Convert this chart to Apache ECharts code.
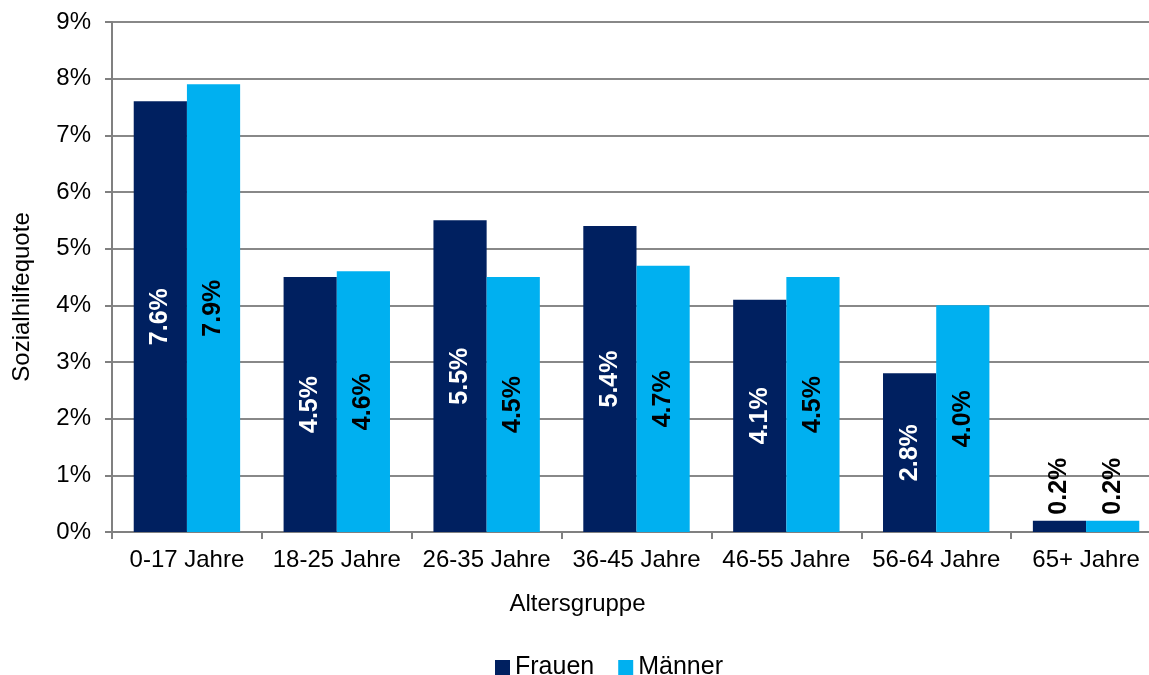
<!DOCTYPE html>
<html>
<head>
<meta charset="utf-8">
<script src="https://cdn.jsdelivr.net/npm/echarts@6/dist/echarts.min.js"></script>
<style>
  html, body { margin: 0; padding: 0; background: #fff; }
  #chart { width: 1149px; height: 675px; }
</style>
</head>
<body>
<div id="chart"></div>
<script>
// Sozialhilfequote nach Altersgruppe und Geschlecht
const categories = ['0-17 Jahre', '18-25 Jahre', '26-35 Jahre', '36-45 Jahre', '46-55 Jahre', '56-64 Jahre', '65+ Jahre'];
const frauen = [7.6, 4.5, 5.5, 5.4, 4.1, 2.8, 0.2];
const maenner = [7.9, 4.6, 4.5, 4.7, 4.5, 4.0, 0.2];
const yTicks = [0, 1, 2, 3, 4, 5, 6, 7, 8, 9];

const FONT = 'Liberation Sans, Arial, sans-serif';

// Short bars get their label above the bar instead of inside it
function withLabels(values) {
  return values.map(v => {
    if (v < 1) {
      return {
        value: v,
        label: { position: 'top', align: 'left', verticalAlign: 'middle', distance: 6, color: '#000' }
      };
    }
    return { value: v };
  });
}

function labelStyle(textColor) {
  return {
    show: true,
    position: 'inside',
    rotate: 90,
    color: textColor,
    fontFamily: FONT,
    fontWeight: 'bold',
    fontSize: 25,
    formatter: p => p.value.toFixed(1) + '%'
  };
}

const chart = echarts.init(document.getElementById('chart'), null, { renderer: 'canvas' });
chart.setOption({
  animation: false,
  backgroundColor: '#fff',
  textStyle: { fontFamily: FONT },
  // the last category runs slightly past the right edge of the canvas
  grid: { left: 112, width: 1049, top: 22, height: 510, outerBoundsMode: 'none', containLabel: false },
  legend: {
    top: 650,
    left: 490,
    itemWidth: 15,
    itemHeight: 15,
    itemGap: 24,
    icon: 'rect',
    textStyle: { fontSize: 25, color: '#000', fontFamily: FONT },
    data: ['Frauen', 'Männer']
  },
  xAxis: {
    type: 'category',
    data: categories,
    name: 'Altersgruppe',
    nameLocation: 'middle',
    nameGap: 60,
    nameTextStyle: { fontSize: 24, color: '#000', fontFamily: FONT, padding: [0, 118, 0, 0] },
    axisLine: { lineStyle: { color: '#808080', width: 2 } },
    axisTick: { show: true, alignWithLabel: false, length: 7, lineStyle: { color: '#808080', width: 2 } },
    axisLabel: { fontSize: 24, color: '#000', margin: 16, interval: 0, fontFamily: FONT }
  },
  yAxis: {
    type: 'value',
    min: yTicks[0],
    max: yTicks[yTicks.length - 1],
    interval: 1,
    name: 'Sozialhilfequote',
    nameLocation: 'middle',
    nameGap: 78,
    nameTextStyle: { fontSize: 24, color: '#000', fontFamily: FONT, padding: [0, 40, 0, 0] },
    axisLine: { show: true, lineStyle: { color: '#808080', width: 2 } },
    axisTick: { show: true, length: 7, lineStyle: { color: '#808080', width: 2 } },
    axisLabel: { fontSize: 24, color: '#000', margin: 21, fontFamily: FONT, formatter: v => v + '%' },
    splitLine: { lineStyle: { color: '#888888', width: 2 } }
  },
  series: [
    {
      name: 'Frauen',
      type: 'bar',
      data: withLabels(frauen),
      barGap: '0%',
      barCategoryGap: '29%',
      itemStyle: { color: '#002060' },
      label: labelStyle('#ffffff')
    },
    {
      name: 'Männer',
      type: 'bar',
      data: withLabels(maenner),
      barGap: '0%',
      barCategoryGap: '29%',
      itemStyle: { color: '#00B0F0' },
      label: labelStyle('#000000')
    }
  ]
});
</script>
</body>
</html>
